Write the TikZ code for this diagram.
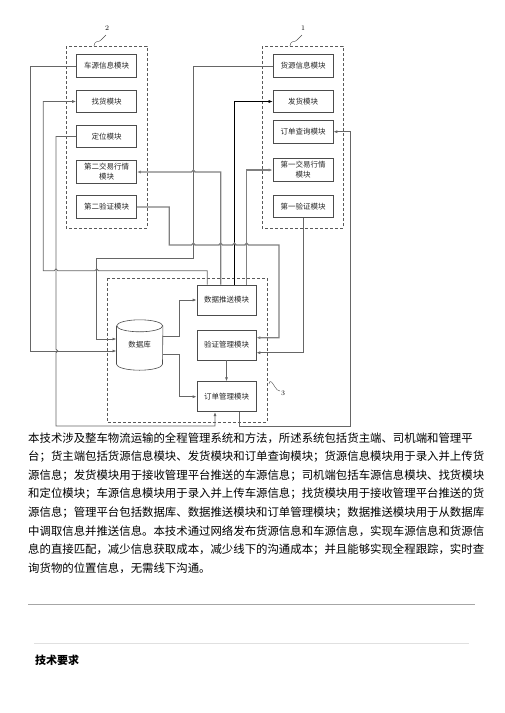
\documentclass[tikz,border=0pt]{standalone}
\usepackage{fontspec}
\newfontfamily\cjk{Noto Sans CJK SC}
\usetikzlibrary{arrows.meta}

\begin{document}
\begin{tikzpicture}[x=1pt, y=-1pt,
  module/.style={draw=black!70, line width=0.6pt, fill=white, minimum width=60pt, minimum height=22.5pt, inner sep=1pt, align=center, text=black!85, font=\cjk\fontsize{7.5}{10}\selectfont},
  mgmt/.style={module, minimum width=59pt, minimum height=30pt},
  group/.style={draw=black!65, line width=0.6pt, dash pattern=on 3pt off 2pt},
  wire/.style={draw=black!60, line width=0.8pt},
  wirethick/.style={draw=black!50, line width=1.3pt},
  wirethin/.style={draw=black, line width=0.5pt},
  tip/.style={-{Latex[length=4pt,width=3pt]}},
  bodytext/.style={anchor=west, inner sep=0pt, font=\cjk\fontsize{11.4}{13}\selectfont}]
  \useasboundingbox (0,0) rectangle (504,713);

  % Driver side - group 2
  \draw[group] (66,46) rectangle (147,228);
  \node[font=\fontsize{7}{8}\selectfont] (lbl2) at (107,28) {2};
  \draw[black!70] (94,46) .. controls (95,39) and (99,43) .. (101,40) .. controls (103,37) .. (106,35);
  \node[module] (cyxx) at (106.5,66) {车源信息模块};
  \node[module] (zh) at (106.5,101.5) {找货模块};
  \node[module] (dw) at (106.5,136.5) {定位模块};
  \node[module] (jy2) at (106.5,172) {第二交易行情\\模块};
  \node[module] (yz2) at (106.5,207) {第二验证模块};

  % Shipper side - group 1
  \draw[group] (262,46) rectangle (343,228);
  \node[font=\fontsize{7}{8}\selectfont] (lbl1) at (303,28) {1};
  \draw[black!70] (290,46) .. controls (291,39) and (295,43) .. (297,40) .. controls (299,37) .. (302,35);
  \node[module] (hyxx) at (303,66) {货源信息模块};
  \node[module] (fh) at (303,101.5) {发货模块};
  \node[module] (ddcx) at (303,131.7) {订单查询模块};
  \node[module] (jy1) at (303,170) {第一交易行情\\模块};
  \node[module] (yz1) at (303,206.5) {第一验证模块};

  % Management platform - group 3
  \draw[group] (107,278) rectangle (267,422);
  \node[font=\fontsize{7}{8}\selectfont] (lbl3) at (283,393) {3};
  \draw[black!70] (269,384) .. controls (270,378) and (273,384) .. (275,387) .. controls (277,390) .. (280,391);
  \node[mgmt] (ts) at (226.5,300) {数据推送模块};
  \node[mgmt] (gl) at (226.5,345) {验证管理模块};
  \node[mgmt] (dd) at (226.5,396.7) {订单管理模块};
  \node[minimum width=46pt, minimum height=50pt, inner sep=0pt, text=black!85, font=\cjk\fontsize{7.5}{10}\selectfont] (db) at (139.7,345) {数据库};
  \draw[black!70, line width=0.6pt] ([yshift=-6pt]db.north west) -- ([yshift=6pt]db.south west) arc[start angle=180, end angle=360, x radius=23pt, y radius=6pt] -- ([yshift=-6pt]db.north east);
  \draw[black!70, line width=0.6pt] ([yshift=-6pt]db.north) ellipse[x radius=23pt, y radius=6pt];

  % Inputs into the database
  \draw[wire,tip] (cyxx.west) -- (30,66) -- (30,351) -- ([yshift=-6pt]db.west);
  \draw[wire,tip] (hyxx.west) -- (193.3,66) -- (193.3,258.3) -- (96.7,258.3) -- (96.7,339) -- ([yshift=6pt]db.west);

  % Push module outputs
  \draw[wire,tip] ([xshift=-19.2pt]ts.north) -- (207.3,270.7) -- (98.5,270.7) arc[start angle=0, end angle=180, radius=1.8pt] -- (57.8,270.7) arc[start angle=0, end angle=180, radius=1.8pt] -- (43.3,270.7) |- (zh.west);
  \draw[wirethick,tip] ([xshift=-5.8pt]ts.north) -- (220.7,172) -- (195.1,172) arc[start angle=0, end angle=180, radius=1.8pt] -- (jy2.east);
  \draw[wirethin,tip] ([xshift=7.8pt]ts.north) |- (fh.west);
  \draw[wirethick,tip] ([xshift=20.2pt]ts.north) |- (jy1.west);

  % Location to order management, order management to order query
  \draw[wire,tip] (dw.west) -- (56,136.5) -- (56,349.2) arc[start angle=90, end angle=-90, radius=1.8pt] -- (56,426) -- (215,426) -- ([xshift=-11.5pt]dd.south);
  \draw[wire,tip] ([xshift=12.8pt]dd.south) -- (239.3,426) -- (350.7,426) |- (ddcx.east);

  % Verification
  \draw[wirethick,tip] (yz2.east) -- (169.3,207) -- (169.3,245) -- (191.5,245) arc[start angle=180, end angle=0, radius=1.8pt] -- (218.9,245) arc[start angle=180, end angle=0, radius=1.8pt] -- (232.5,245) arc[start angle=180, end angle=0, radius=1.8pt] -- (244.9,245) arc[start angle=180, end angle=0, radius=1.8pt] -- (279,245) -- (279,337.7) -- ([yshift=7.3pt]gl.east);
  \draw[wire,tip] (yz1.south) -- (303,352.7) -- ([yshift=-7.7pt]gl.east);

  % Inside the platform
  \draw[wire,tip] ([yshift=8.3pt]db.east) -- (179,336.7) |- (ts.west);
  \draw[wire,tip] ([yshift=-9.3pt]db.east) -- (179,354.3) |- (dd.west);
  \draw[wire,tip] (gl.south) -- (dd.north);

  % Abstract text
  \node[bodytext] (p1) at (28,438.3) {本技术涉及整车物流运输的全程管理系统和方法，所述系统包括货主端、司机端和管理平};
  \node[bodytext] (p2) at (28,456.8) {台；货主端包括货源信息模块、发货模块和订单查询模块；货源信息模块用于录入并上传货};
  \node[bodytext] (p3) at (28,475.3) {源信息；发货模块用于接收管理平台推送的车源信息；司机端包括车源信息模块、找货模块};
  \node[bodytext] (p4) at (28,493.8) {和定位模块；车源信息模块用于录入并上传车源信息；找货模块用于接收管理平台推送的货};
  \node[bodytext] (p5) at (28,512.3) {源信息；管理平台包括数据库、数据推送模块和订单管理模块；数据推送模块用于从数据库};
  \node[bodytext] (p6) at (28,530.8) {中调取信息并推送信息。本技术通过网络发布货源信息和车源信息，实现车源信息和货源信};
  \node[bodytext] (p7) at (28,549.3) {息的直接匹配，减少信息获取成本，减少线下的沟通成本；并且能够实现全程跟踪，实时查};
  \node[bodytext] (p8) at (28,567.8) {询货物的位置信息，无需线下沟通。};

  % Separators and heading
  \draw[black!35, line width=0.7pt] (28,604.5) -- (475,604.5);
  \draw[black!12, line width=1.5pt] (34,643.3) -- (469,643.3);
  \node[anchor=west, inner sep=0pt, font=\cjk\bfseries\fontsize{11}{13}\selectfont] (heading) at (35,660.7) {技术要求};
\end{tikzpicture}
\end{document}
